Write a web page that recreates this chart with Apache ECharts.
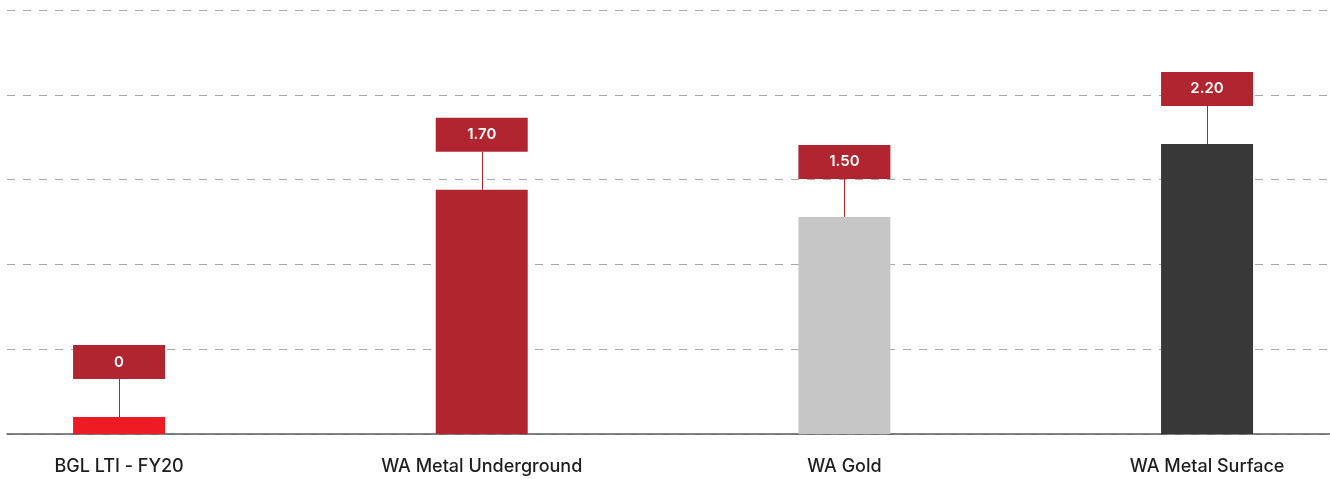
<!DOCTYPE html>
<html>
<head>
<meta charset="utf-8">
<script src="https://cdn.jsdelivr.net/npm/echarts@6/dist/echarts.min.js"></script>
<style>
html,body{margin:0;padding:0;background:#fff;}
#chart{width:1330px;height:479px;}
</style>
</head>
<body>
<div id="chart"></div>
<script>
const categories = ["BGL LTI - FY20", "WA Metal Underground", "WA Gold", "WA Metal Surface"];
const barValues = [0.10, 1.44, 1.28, 1.71];
const valueLabels = ["0", "1.70", "1.50", "2.20"];
const barColors = ["#ed1c24", "#b1262e", "#c6c6c6", "#383838"];
const yTicks = [0, 0.5, 1, 1.5, 2, 2.5];

const chart = echarts.init(document.getElementById('chart'));
const FONT = 'Inter, "Noto Sans", sans-serif';
const catIdx = categories.map((c, i) => i);

const option = {
  animation: false,
  backgroundColor: '#ffffff',
  grid: { left: 7, right: 0, top: 10, bottom: 45 },
  xAxis: {
    type: 'value', min: -0.309, max: 3.339,
    axisLine: { show: true, onZero: false, lineStyle: { color: '#5a5a5a', width: 1.5 } },
    axisTick: { show: false },
    splitLine: { show: false },
    axisLabel: {
      customValues: catIdx,
      formatter: v => categories[Math.round(v)] || '',
      margin: 24, color: '#1e1e1e', fontFamily: FONT, fontSize: 18, fontWeight: 500
    }
  },
  yAxis: {
    type: 'value', min: yTicks[0], max: yTicks[yTicks.length - 1], interval: 0.5,
    axisLine: { show: false }, axisTick: { show: false }, axisLabel: { show: false },
    splitLine: { show: true, lineStyle: { color: '#a8a8a8', type: [8, 8], width: 1 } }
  },
  series: [
    {
      type: 'bar', barWidth: 92, z: 2,
      data: barValues.map((v, i) => ({ value: [i, v], itemStyle: { color: barColors[i] } }))
    },
    {
      type: 'custom', z: 5,
      data: barValues.map((v, i) => [i, v]),
      renderItem: function (params, api) {
        const p = api.coord([api.value(0), api.value(1)]);
        const gap = 38, bh = 34, bw = 92;
        const x = Math.round(p[0]) + 0.5;
        return {
          type: 'group',
          children: [
            { type: 'line', shape: { x1: x, y1: p[1], x2: x, y2: p[1] - gap },
              style: { stroke: '#b1262e', lineWidth: 1 } },
            { type: 'rect', shape: { x: p[0] - bw / 2, y: p[1] - gap - bh, width: bw, height: bh },
              style: { fill: '#b0252f' } },
            { type: 'text', x: p[0], y: p[1] - gap - bh / 2,
              style: { text: valueLabels[params.dataIndex], fill: '#ffffff', fontFamily: FONT,
                fontSize: 15, fontWeight: 600, align: 'center', verticalAlign: 'middle' } }
          ]
        };
      }
    }
  ]
};
chart.setOption(option);
</script>
</body>
</html>
